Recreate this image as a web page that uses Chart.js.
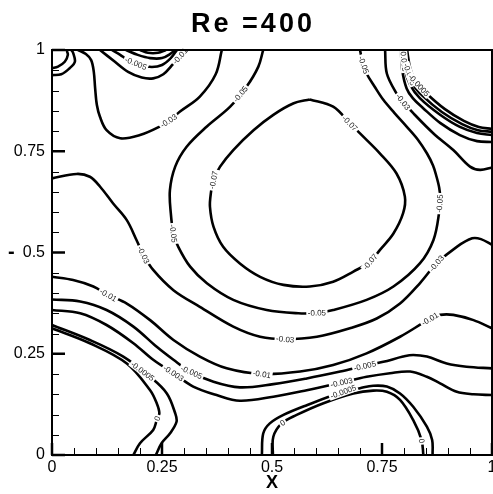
<!DOCTYPE html>
<html><head><meta charset="utf-8">
<script src="https://cdn.jsdelivr.net/npm/chart.js@4.4.1/dist/chart.umd.min.js"></script>
<style>html,body{margin:0;padding:0;background:#fff;overflow:hidden}</style>
</head><body>
<canvas id="c" width="493" height="494"></canvas>
<script>
const chartTitle = 'Re =400';
const xAxisTitle = 'X';
const yAxisTitle = '-';
const majorTicks = [0, 0.25, 0.5, 0.75, 1];
const tickLabels = ['0', '0.25', '0.5', '0.75', '1'];
const minorTicks = [0.05,0.1,0.15,0.2,0.3,0.35,0.4,0.45,0.55,0.6,0.65,0.7,0.8,0.85,0.9,0.95];

// contour lines, [x, y] points
const psiM07 = [[0.586,0.878],[0.639,0.860],[0.677,0.819],[0.700,0.794],[0.745,0.745],[0.783,0.695],[0.802,0.638],[0.798,0.597],[0.776,0.547],[0.745,0.506],[0.723,0.477],[0.685,0.453],[0.639,0.428],[0.586,0.416],[0.526,0.420],[0.473,0.440],[0.427,0.473],[0.389,0.514],[0.367,0.564],[0.359,0.613],[0.361,0.646],[0.367,0.679],[0.382,0.712],[0.412,0.753],[0.458,0.802],[0.503,0.840],[0.548,0.868],[0.586,0.878]];
const psiM05 = [[0.480,1.0],[0.469,0.959],[0.442,0.909],[0.405,0.860],[0.352,0.811],[0.306,0.761],[0.280,0.712],[0.268,0.654],[0.270,0.597],[0.276,0.547],[0.287,0.514],[0.314,0.465],[0.352,0.424],[0.412,0.383],[0.488,0.358],[0.560,0.350],[0.602,0.351],[0.639,0.358],[0.715,0.383],[0.776,0.416],[0.836,0.473],[0.867,0.531],[0.880,0.600],[0.882,0.638],[0.880,0.660],[0.874,0.687],[0.866,0.715],[0.852,0.745],[0.832,0.778],[0.806,0.811],[0.778,0.845],[0.753,0.877],[0.733,0.910],[0.715,0.942],[0.706,0.970],[0.700,1.0]];
const psiM03TopLeft = [[0.059,1.0],[0.077,0.990],[0.089,0.975],[0.095,0.946],[0.098,0.906],[0.102,0.864],[0.109,0.835],[0.124,0.802],[0.155,0.782],[0.200,0.790],[0.245,0.811],[0.268,0.827],[0.291,0.848],[0.336,0.885],[0.372,0.940],[0.386,1.0]];
const psiM03Mid = [[0,0.683],[0.056,0.694],[0.086,0.687],[0.109,0.663],[0.139,0.621],[0.170,0.580],[0.192,0.531],[0.208,0.494],[0.230,0.457],[0.276,0.407],[0.336,0.366],[0.412,0.317],[0.473,0.292],[0.530,0.286],[0.602,0.292],[0.677,0.313],[0.738,0.337],[0.791,0.374],[0.836,0.424],[0.874,0.473],[0.920,0.514],[0.955,0.535],[0.975,0.533],[1.0,0.519]];
const psiM03TopRight = [[0.757,1.0],[0.761,0.942],[0.783,0.893],[0.798,0.872],[0.821,0.844],[0.867,0.794],[0.912,0.753],[0.950,0.712],[0.973,0.704],[1.0,0.710]];
const psiM01Mid = [[0,0.440],[0.048,0.432],[0.094,0.416],[0.128,0.395],[0.170,0.374],[0.223,0.333],[0.276,0.284],[0.336,0.243],[0.397,0.214],[0.477,0.200],[0.564,0.206],[0.639,0.222],[0.715,0.251],[0.791,0.292],[0.859,0.336],[0.882,0.346],[0.912,0.346],[0.958,0.333],[1.0,0.313]];
const psiM005Mid = [[0,0.384],[0.064,0.379],[0.124,0.358],[0.185,0.317],[0.238,0.267],[0.276,0.235],[0.314,0.206],[0.367,0.181],[0.427,0.167],[0.503,0.175],[0.579,0.189],[0.655,0.206],[0.711,0.220],[0.753,0.230],[0.798,0.243],[0.821,0.247],[0.852,0.243],[0.897,0.226],[0.942,0.218],[1.0,0.214]];
const psiM003Mid = [[0,0.358],[0.064,0.350],[0.124,0.321],[0.185,0.276],[0.230,0.235],[0.276,0.202],[0.321,0.169],[0.374,0.148],[0.427,0.134],[0.503,0.144],[0.579,0.160],[0.658,0.179],[0.715,0.193],[0.768,0.202],[0.814,0.206],[0.852,0.193],[0.882,0.177],[0.920,0.156],[0.958,0.150],[1.0,0.148]];
const psiM0005Left = [[0,0.321],[0.086,0.284],[0.162,0.243],[0.223,0.193],[0.261,0.152],[0.280,0.103],[0.283,0.082],[0.268,0.053],[0.249,0.029],[0.236,0]];
const psiZeroLeft = [[0,0.313],[0.086,0.276],[0.170,0.226],[0.223,0.160],[0.238,0.128],[0.244,0.103],[0.238,0.086],[0.230,0.062],[0.200,0.029],[0.185,0]];
const psiM0005Bottom = [[0.477,0],[0.480,0.053],[0.495,0.078],[0.526,0.099],[0.579,0.123],[0.662,0.156],[0.700,0.165],[0.730,0.171],[0.761,0.169],[0.791,0.152],[0.821,0.119],[0.852,0.070],[0.864,0.037],[0.865,0]];
const psiZeroBottom = [[0.502,0],[0.503,0.045],[0.522,0.078],[0.556,0.099],[0.617,0.128],[0.685,0.152],[0.730,0.159],[0.761,0.156],[0.791,0.136],[0.821,0.086],[0.840,0.037],[0.844,0]];
const psiM01Top = [[0.109,1],[0.143,0.971],[0.173,0.946],[0.204,0.932],[0.230,0.930],[0.253,0.940],[0.275,0.965],[0.291,0.985],[0.303,1]];
const psiM005Top = [[0.136,1],[0.155,0.988],[0.173,0.975],[0.200,0.963],[0.227,0.958],[0.250,0.963],[0.270,0.980],[0.284,1]];
const psiM003Top = [[0.168,1],[0.195,0.988],[0.223,0.980],[0.250,0.980],[0.268,0.990],[0.280,1]];
const psiM0005Top = [[0.200,1],[0.218,0.993],[0.241,0.993],[0.259,1]];
const cornerA = [[0,0.955],[0.0136,0.959],[0.029,0.971],[0.036,0.988],[0.033,1]];
const cornerB = [[0,0.938],[0.021,0.940],[0.040,0.955],[0.052,0.971],[0.048,0.993],[0.044,1]];
const psiM01Right = [[0.793,1],[0.796,0.95],[0.806,0.905],[0.820,0.881],[0.843,0.857],[0.882,0.820],[0.927,0.790],[0.966,0.775],[1,0.773]];
const psiM005Right = [[0.798,1],[0.802,0.951],[0.814,0.914],[0.836,0.881],[0.882,0.840],[0.927,0.810],[0.966,0.795],[1,0.790]];
const psiM003Right = [[0.802,1],[0.809,0.951],[0.820,0.916],[0.843,0.886],[0.886,0.847],[0.932,0.817],[0.968,0.802],[1,0.798]];
const psiM0005Right = [[0.807,1],[0.814,0.956],[0.827,0.921],[0.850,0.894],[0.893,0.854],[0.936,0.825],[0.970,0.810],[1,0.805]];

const contourNames = ['psiM07','psiM05','psiM03TopLeft','psiM03Mid','psiM03TopRight','psiM01Mid','psiM005Mid','psiM003Mid','psiM0005Left','psiZeroLeft','psiM0005Bottom','psiZeroBottom','psiM01Top','psiM005Top','psiM003Top','psiM0005Top','cornerA','cornerB','psiM01Right','psiM005Right','psiM003Right','psiM0005Right'];
const contourLines = [psiM07,psiM05,psiM03TopLeft,psiM03Mid,psiM03TopRight,psiM01Mid,psiM005Mid,psiM003Mid,psiM0005Left,psiZeroLeft,psiM0005Bottom,psiZeroBottom,psiM01Top,psiM005Top,psiM003Top,psiM0005Top,cornerA,cornerB,psiM01Right,psiM005Right,psiM003Right,psiM0005Right];

// contour labels: text, x, y, contour
const labelTexts = ['-0.07','-0.07','-0.07','-0.05','-0.05','-0.05','-0.05','-0.05','-0.03','-0.03','-0.03','-0.03','-0.03','-0.01','-0.01','-0.01','-0.01','-0.005','-0.005','-0.005','-0.003','-0.003','-0.0005','-0.0005','0','0','0','-0.005','-0.003','-0.0005'];
const labelX = [0.677,0.723,0.367,0.431,0.276,0.602,0.878,0.708,0.264,0.208,0.530,0.874,0.798,0.128,0.477,0.859,0.291,0.189,0.317,0.711,0.276,0.658,0.206,0.662,0.238,0.524,0.842,0.801,0.812,0.826];
const labelY = [0.819,0.477,0.679,0.889,0.547,0.351,0.621,0.963,0.827,0.494,0.286,0.473,0.872,0.395,0.200,0.336,0.985,0.963,0.204,0.220,0.202,0.179,0.207,0.156,0.091,0.080,0.035,0.975,0.940,0.905];
const labelLine = ['psiM07','psiM07','psiM07','psiM05','psiM05','psiM05','psiM05','psiM05','psiM03TopLeft','psiM03Mid','psiM03Mid','psiM03Mid','psiM03TopRight','psiM01Mid','psiM01Mid','psiM01Mid','psiM01Top','psiM005Top','psiM005Mid','psiM005Mid','psiM003Mid','psiM003Mid','psiM0005Left','psiM0005Bottom','psiZeroLeft','psiZeroBottom','psiZeroBottom','psiM005Right','psiM003Right','psiM0005Right'];

const FONT = '"Liberation Sans", Arial, Helvetica, sans-serif';

const datasets = contourLines.map((pts, i) => ({
  label: contourNames[i],
  data: pts.map(p => ({x: p[0], y: p[1]})),
  showLine: true,
  borderColor: '#000',
  borderWidth: 2.6,
  pointRadius: 0,
  pointHoverRadius: 0,
  tension: 0.35,
  fill: false
}));

const decor = {
  id: 'decor',
  afterDatasetsDraw(chart) {
    const ctx = chart.ctx, xs = chart.scales.x, ys = chart.scales.y;
    ctx.save();
    ctx.font = '8px ' + FONT;
    ctx.textAlign = 'center';
    ctx.textBaseline = 'middle';
    for (let k = 0; k < labelTexts.length; k++) {
      const idx = contourNames.indexOf(labelLine[k]);
      const pts = chart.getDatasetMeta(idx).data;
      const px = xs.getPixelForValue(labelX[k]), py = ys.getPixelForValue(labelY[k]);
      let best = Infinity, ang = 0, cx = px, cy = py;
      for (let i = 0; i < pts.length - 1; i++) {
        const a = pts[i], b = pts[i+1];
        const dx = b.x - a.x, dy = b.y - a.y;
        const L2 = dx*dx + dy*dy || 1;
        let t = ((px - a.x)*dx + (py - a.y)*dy) / L2;
        t = Math.max(0, Math.min(1, t));
        const qx = a.x + t*dx, qy = a.y + t*dy;
        const d = (qx-px)*(qx-px) + (qy-py)*(qy-py);
        if (d < best) { best = d; ang = Math.atan2(dy, dx); cx = qx; cy = qy; }
      }
      if (ang > Math.PI/2) ang -= Math.PI;
      if (ang < -Math.PI/2) ang += Math.PI;
      ctx.save();
      ctx.translate(cx, cy);
      ctx.rotate(ang);
      const w = ctx.measureText(labelTexts[k]).width;
      ctx.fillStyle = '#fff';
      ctx.fillRect(-w/2 - 1.5, -4, w + 3, 8);
      ctx.fillStyle = '#222';
      ctx.fillText(labelTexts[k], 0, 0.5);
      ctx.restore();
    }
    ctx.restore();
  },
  afterDraw(chart) {
    const ctx = chart.ctx, a = chart.chartArea, xs = chart.scales.x, ys = chart.scales.y;
    ctx.save();
    ctx.strokeStyle = '#000';
    ctx.lineWidth = 2;
    ctx.strokeRect(a.left, a.top, a.right - a.left, a.bottom - a.top);
    ctx.lineWidth = 1;
    minorTicks.forEach(v => {
      const yp = Math.round(ys.getPixelForValue(v)) + 0.5;
      ctx.beginPath(); ctx.moveTo(a.left, yp); ctx.lineTo(a.left + 7, yp); ctx.stroke();
      const xp = Math.round(xs.getPixelForValue(v)) + 0.5;
      ctx.beginPath(); ctx.moveTo(xp, a.bottom); ctx.lineTo(xp, a.bottom - 7); ctx.stroke();
    });
    ctx.lineWidth = 2.5;
    majorTicks.forEach(v => {
      const yp = ys.getPixelForValue(v);
      ctx.beginPath(); ctx.moveTo(a.left, yp); ctx.lineTo(a.left + 13, yp); ctx.stroke();
      const xp = xs.getPixelForValue(v);
      ctx.beginPath(); ctx.moveTo(xp, a.bottom); ctx.lineTo(xp, a.bottom - 12); ctx.stroke();
    });
    ctx.fillStyle = '#000';
    ctx.textAlign = 'center';
    ctx.textBaseline = 'alphabetic';
    ctx.font = 'bold 27px ' + FONT;
    try { ctx.letterSpacing = '3px'; } catch (e) {}
    ctx.fillText(chartTitle, 253, 32);
    try { ctx.letterSpacing = '0px'; } catch (e) {}
    ctx.font = 'bold 18px ' + FONT;
    ctx.fillText(xAxisTitle, xs.getPixelForValue(0.5), 488);
    ctx.font = 'bold 20px ' + FONT;
    ctx.textAlign = 'left';
    ctx.textBaseline = 'middle';
    ctx.fillText(yAxisTitle, 8, ys.getPixelForValue(0.5));
    ctx.restore();
  }
};

const setTicks = s => { s.ticks = majorTicks.map(v => ({ value: v })); };
const fmtTick = (v, i) => tickLabels[majorTicks.indexOf(v)] ?? tickLabels[i];

new Chart(document.getElementById('c'), {
  type: 'scatter',
  data: { datasets },
  options: {
    responsive: false,
    animation: false,
    events: [],
    layout: { padding: { left: 0, right: 1, top: 50, bottom: 0 } },
    plugins: { legend: { display: false }, title: { display: false }, tooltip: { enabled: false } },
    scales: {
      x: {
        type: 'linear', min: 0, max: 1,
        grid: { display: false, drawTicks: false },
        border: { display: false },
        afterBuildTicks: setTicks,
        ticks: { autoSkip: false, color: '#000', padding: 3, maxRotation: 0, callback: fmtTick, font: { size: 16, family: FONT } },
        afterFit(s) { s.height = 39; s.paddingLeft = 0; s.paddingRight = 0; }
      },
      y: {
        type: 'linear', min: 0, max: 1,
        grid: { display: false, drawTicks: false },
        border: { display: false },
        afterBuildTicks: setTicks,
        ticks: { autoSkip: false, color: '#000', padding: 7, callback: fmtTick, font: { size: 16, family: FONT } },
        afterFit(s) { s.width = 52; s.paddingTop = 0; s.paddingBottom = 0; }
      }
    }
  },
  plugins: [decor]
});
</script>
</body></html>
